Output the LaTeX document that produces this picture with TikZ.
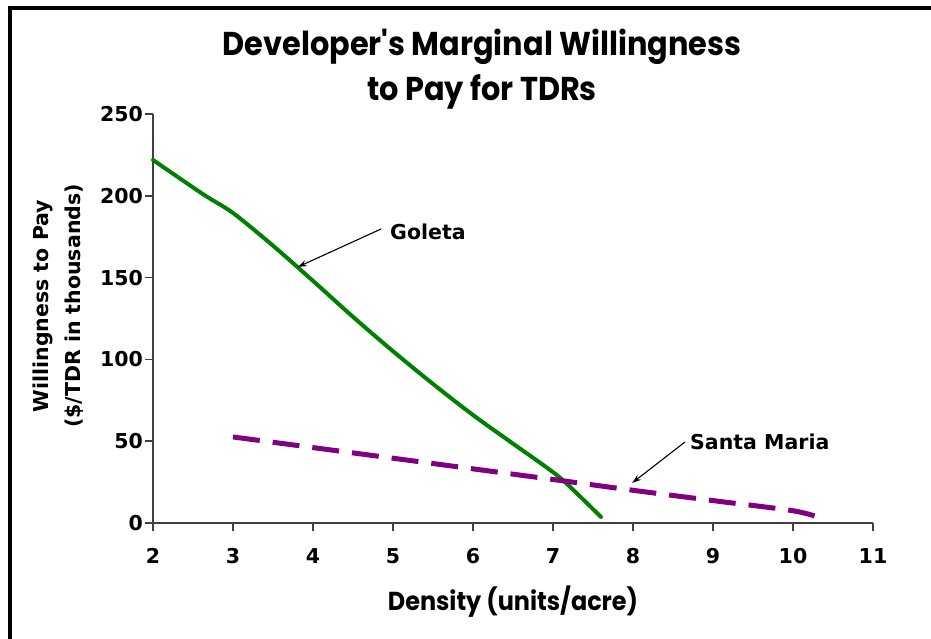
\documentclass[tikz,border=0pt]{standalone}
\usepackage{fontspec}
\setmainfont{DejaVu Sans}
\newfontfamily\titlefont[FakeStretch=0.92]{Poppins}
\usetikzlibrary{arrows.meta}
\definecolor{goletagreen}{RGB}{0,128,0}
\definecolor{smpurple}{RGB}{128,0,128}

\begin{document}
\begin{tikzpicture}[x=1pt, y=1pt,
    lbl/.style={font=\bfseries\fontsize{20.5}{24}\selectfont, inner sep=0pt},
    heading/.style={font=\titlefont\bfseries\fontsize{33}{38}\selectfont, inner sep=0pt},
    axistitle/.style={font=\titlefont\bfseries\fontsize{26}{30}\selectfont, inner sep=0pt},
    axisline/.style={draw=black!75, line width=1.6pt},
    pointer/.style={-{Stealth[length=9pt, width=6pt]}, line width=1.1pt}]
  \useasboundingbox (0,0) rectangle (931,638);
  \clip (0,0) rectangle (931,638);
  \draw[line width=4pt] (9.5,-20) -- (9.5,630) -- (950,630);

  \node[heading, anchor=base] (title1) at (482,582) {Developer's Marginal Willingness};
  \node[heading, anchor=base] (title2) at (482,537) {to Pay for TDRs};
  \node[axistitle, anchor=base] (xtitle) at (513,28) {Density (units/acre)};
  \node[lbl, rotate=90, anchor=base] (ytitle1) at (48,332) {Willingness to Pay};
  \node[lbl, rotate=90, anchor=base] (ytitle2) at (80,332) {(\$/TDR in thousands)};

  \begin{scope}[shift={(-7,115)}, x=80pt, y=1.636pt]
    \draw[axisline] (2,0) -- (11,0);
    \draw[axisline] (2,0) -- (2,250);
    \foreach \x in {2,...,11} {
      \draw[axisline] (\x,0) -- ++(0,-8pt);
      \node[lbl] (x\x) at ([yshift=-33pt]\x,0) {\x};
    }
    \foreach \y in {0,50,...,250} {
      \draw[axisline] (2,\y) -- ++(-8pt,0);
      \node[lbl, anchor=east] (y\y) at ([xshift=-10pt]2,\y) {\y};
    }

    \draw[goletagreen, line width=4pt, line cap=round] plot[smooth, tension=0.5] coordinates {
      (2,221.9) (2.625,201) (3,189.5) (3.5,169.5) (4,148) (4.5,126) (5,105)
      (5.5,85) (6,66) (6.5,48.5) (6.93,33.6) (7.15,25) (7.6,3.7)};
    \draw[smpurple, line width=5pt, dash pattern=on 27pt off 13pt] plot[smooth, tension=0.5] coordinates {
      (3,52.6) (4,46.1) (5,39.6) (6,33.1) (7,26.6) (8,20) (9,13.7) (10,7.5) (10.35,3)};

    \coordinate (goletaTip) at (3.81,156.5);
    \coordinate (smTip) at (7.99,24.5);
  \end{scope}

  \node[lbl, anchor=west, inner xsep=9pt] (goleta) at (381,406) {Goleta};
  \node[lbl, anchor=west, inner xsep=5pt] (santamaria) at (685,196) {Santa Maria};
  \draw[pointer] ([yshift=3pt]goleta.west) -- (goletaTip);
  \draw[pointer] (santamaria.west) -- (smTip);
\end{tikzpicture}
\end{document}
